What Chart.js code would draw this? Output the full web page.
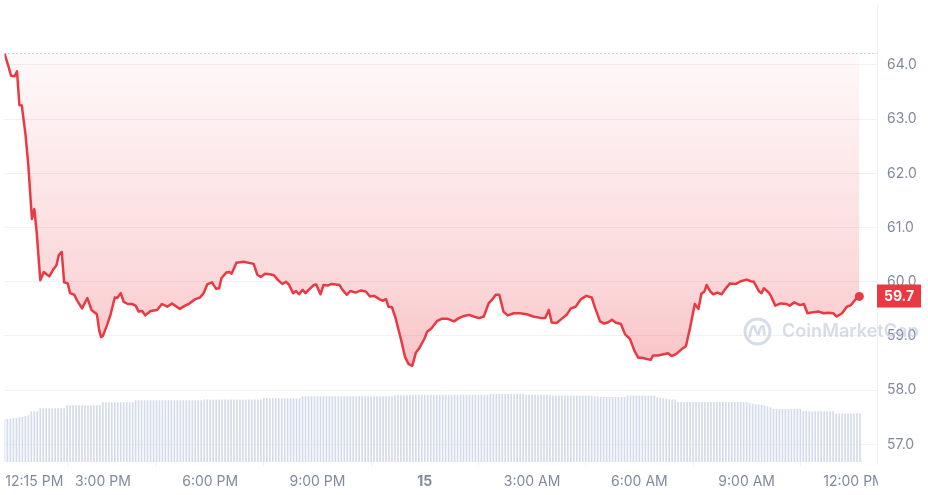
<!DOCTYPE html>
<html>
<head>
<meta charset="utf-8">
<script src="https://cdn.jsdelivr.net/npm/chart.js@4.4.1/dist/chart.umd.min.js"></script>
<style>
  html, body { margin: 0; padding: 0; background: #fff; }
  #priceChart { display: block; }
</style>
</head>
<body>
<canvas id="priceChart" width="928" height="495"></canvas>
<script>
// minutes since 12:15 PM
const priceTimes = [
	0, 7, 11, 17, 21, 25, 29, 35, 40, 46,
	50, 54, 60, 66, 75, 82, 87, 91, 96, 100,
	106, 110, 117, 121, 130, 139, 146, 155, 159, 162,
	165, 172, 178, 185, 189, 195, 200, 207, 214, 220,
	225, 231, 236, 245, 256, 264, 273, 281, 294, 303,
	309, 320, 328, 334, 340, 348, 355, 360, 364, 372,
	377, 381, 389, 401, 418, 424, 430, 437, 445, 452,
	459, 466, 472, 477, 484, 489, 494, 500, 505, 511,
	519, 523, 530, 535, 542, 549, 562, 567, 574, 580,
	589, 598, 606, 613, 620, 629, 634, 640, 644, 650,
	656, 665, 672, 678, 684, 690, 696, 704, 709, 716,
	726, 734, 743, 754, 762, 771, 779, 787, 796, 804,
	812, 818, 824, 830, 837, 844, 854, 865, 876, 887,
	901, 907, 913, 918, 926, 935, 943, 950, 958, 967,
	976, 985, 991, 999, 1006, 1012, 1019, 1025, 1034, 1041,
	1049, 1057, 1063, 1069, 1076, 1084, 1088, 1096, 1104, 1113,
	1119, 1127, 1135, 1143, 1150, 1158, 1164, 1169, 1174, 1178,
	1184, 1189, 1196, 1203, 1208, 1217, 1227, 1235, 1245, 1252,
	1257, 1266, 1270, 1274, 1282, 1286, 1293, 1302, 1312, 1317,
	1325, 1330, 1335, 1341, 1347, 1357, 1366, 1374, 1382, 1390,
	1396, 1405, 1413, 1420, 1427, 1434
];

const priceValues = [
	64.21, 63.96, 63.80, 63.79, 63.88, 63.26, 63.25, 62.74, 62.14, 61.16,
	61.34, 60.91, 60.03, 60.18, 60.10, 60.23, 60.30, 60.49, 60.55, 59.99,
	59.97, 59.79, 59.76, 59.67, 59.51, 59.70, 59.48, 59.40, 59.10, 58.98,
	59.00, 59.20, 59.40, 59.71, 59.70, 59.79, 59.63, 59.59, 59.59, 59.56,
	59.45, 59.46, 59.38, 59.46, 59.48, 59.59, 59.54, 59.60, 59.50, 59.56,
	59.59, 59.68, 59.71, 59.79, 59.95, 59.99, 59.87, 59.88, 60.07, 60.17,
	60.18, 60.15, 60.35, 60.37, 60.33, 60.13, 60.09, 60.15, 60.14, 60.12,
	60.03, 59.96, 60.00, 59.95, 59.79, 59.83, 59.77, 59.85, 59.79, 59.86,
	59.94, 59.95, 59.77, 59.94, 59.93, 59.96, 59.94, 59.85, 59.76, 59.83,
	59.80, 59.84, 59.82, 59.73, 59.74, 59.68, 59.65, 59.68, 59.54, 59.53,
	59.33, 58.94, 58.61, 58.48, 58.45, 58.69, 58.78, 58.94, 59.08, 59.14,
	59.28, 59.32, 59.32, 59.27, 59.33, 59.37, 59.39, 59.36, 59.33, 59.36,
	59.60, 59.67, 59.76, 59.76, 59.45, 59.38, 59.42, 59.42, 59.40, 59.36,
	59.33, 59.33, 59.48, 59.25, 59.24, 59.32, 59.39, 59.51, 59.54, 59.68,
	59.74, 59.71, 59.51, 59.27, 59.23, 59.25, 59.30, 59.25, 59.22, 59.03,
	58.95, 58.72, 58.60, 58.60, 58.58, 58.56, 58.64, 58.64, 58.66, 58.68,
	58.63, 58.67, 58.75, 58.81, 59.15, 59.59, 59.50, 59.78, 59.82, 59.94,
	59.82, 59.77, 59.80, 59.77, 59.85, 59.97, 59.96, 60.01, 60.04, 60.01,
	60.00, 59.82, 59.79, 59.88, 59.80, 59.73, 59.56, 59.60, 59.59, 59.56,
	59.62, 59.59, 59.57, 59.59, 59.42, 59.44, 59.45, 59.42, 59.43, 59.42,
	59.36, 59.42, 59.54, 59.57, 59.67, 59.73
];

// rolling 24h volume (M$), one bar every 5 minutes
const volumeStep = 5;
const volumeValues = [
	430, 430, 435, 440, 440, 450, 450, 460, 470, 510, 510, 510,
	540, 540, 540, 540, 540, 540, 540, 540, 540, 570, 570, 570,
	570, 570, 570, 570, 570, 570, 570, 570, 570, 600, 600, 600,
	600, 600, 600, 600, 600, 600, 600, 600, 620, 620, 620, 620,
	620, 620, 620, 620, 620, 620, 620, 620, 620, 620, 620, 620,
	620, 620, 620, 620, 620, 620, 620, 627, 627, 627, 627, 627,
	627, 627, 627, 627, 627, 627, 627, 627, 627, 627, 627, 627,
	627, 627, 627, 640, 640, 640, 640, 640, 640, 640, 640, 640,
	640, 640, 640, 640, 660, 660, 660, 660, 660, 660, 660, 660,
	660, 660, 660, 660, 660, 660, 660, 660, 660, 660, 660, 660,
	660, 660, 660, 660, 660, 660, 660, 660, 660, 660, 660, 670,
	670, 670, 670, 670, 677, 677, 677, 677, 677, 677, 677, 677,
	677, 677, 677, 677, 677, 677, 677, 677, 677, 677, 677, 677,
	677, 677, 677, 677, 677, 677, 677, 687, 687, 687, 687, 687,
	687, 687, 687, 687, 687, 687, 687, 677, 677, 677, 677, 677,
	677, 677, 677, 677, 667, 667, 667, 667, 667, 667, 667, 667,
	667, 667, 667, 667, 667, 667, 660, 660, 653, 653, 653, 653,
	653, 653, 653, 653, 653, 667, 667, 667, 667, 667, 667, 667,
	667, 667, 667, 650, 645, 640, 635, 630, 627, 627, 603, 603,
	603, 603, 603, 603, 603, 603, 603, 603, 603, 603, 603, 603,
	603, 603, 603, 603, 603, 603, 603, 603, 603, 603, 590, 585,
	580, 580, 575, 570, 560, 550, 533, 533, 533, 533, 533, 533,
	533, 533, 533, 533, 510, 510, 510, 510, 510, 510, 510, 510,
	510, 510, 510, 487, 487, 487, 487, 487, 487, 487, 487, 487
];

const xTickMinutes = [50, 165, 345, 525, 705, 885, 1065, 1245, 1425];
const xTickLabels = ["12:15 PM", "3:00 PM", "6:00 PM", "9:00 PM", "15", "3:00 AM", "6:00 AM", "9:00 AM", "12:00 PM"];
const yTickValues = [57, 58, 59, 60, 61, 62, 63, 64];

const basePrice = priceValues[0];
const lastPrice = priceValues[priceValues.length - 1];
const RED = "#ea3943";
const AXIS_TEXT = "#808a9d";
const GRID = "#eff2f5";

const X_MAX = 1463.6;
const Y_MIN = 56.676;
const Y_MAX = 65.114;

const pricePoints = priceTimes.map((t, i) => ({ x: t, y: priceValues[i] }));
const volumePoints = volumeValues.map((v, i) => ({ x: i * volumeStep, y: v }));

/**
 * dégradé rouge sous la ligne de base
 */
function fillGradient(context) {
	const chart = context.chart;
	const { ctx, chartArea, scales } = chart;
	if (!chartArea) return "rgba(234,57,67,0.15)";
	const top = scales.y.getPixelForValue(basePrice);
	const bottom = scales.y.getPixelForValue(Math.min(...priceValues));
	const g = ctx.createLinearGradient(0, top, 0, bottom);
	g.addColorStop(0, "rgba(234,57,67,0.03)");
	g.addColorStop(0.7, "rgba(234,57,67,0.19)");
	g.addColorStop(1, "rgba(234,57,67,0.30)");
	return g;
}

function noPadding(scale) {
	scale.paddingLeft = 0;
	scale.paddingRight = 0;
	scale.paddingTop = 0;
	scale.paddingBottom = 0;
}

// hides the part of the x labels that spills under the y axis
const clipXLabels = {
	id: "clipXLabels",
	afterDatasetsDraw(chart) {
		const { ctx, chartArea } = chart;
		ctx.save();
		ctx.fillStyle = "#fff";
		ctx.fillRect(chartArea.right + 1, chartArea.bottom + 1, chart.width, chart.height);
		ctx.restore();
	},
};

const watermark = {
	id: "watermark",
	afterDraw(chart) {
		const ctx = chart.ctx;
		const cx = 757.5, cy = 331.5;
		ctx.save();
		ctx.globalAlpha = 0.55;
		ctx.strokeStyle = "#b4c0d6";
		ctx.fillStyle = "#b4c0d6";
		ctx.lineWidth = 3;
		ctx.beginPath();
		ctx.arc(cx, cy, 12.5, 0, Math.PI * 2);
		ctx.stroke();
		ctx.lineWidth = 2.6;
		ctx.lineJoin = "round";
		ctx.beginPath();
		ctx.moveTo(cx - 8, cy + 6);
		ctx.quadraticCurveTo(cx - 6, cy - 7, cx - 3, cy - 5);
		ctx.quadraticCurveTo(cx - 1, cy + 3, cx + 1, cy + 3);
		ctx.quadraticCurveTo(cx + 3, cy - 7, cx + 6, cy - 5);
		ctx.lineTo(cx + 7, cy + 4);
		ctx.stroke();
		ctx.font = "600 19px Inter";
		const w = ctx.measureText("CoinMarketCap").width;
		const size = 19 * 137 / w;
		ctx.font = "600 " + size.toFixed(2) + "px Inter";
		ctx.textBaseline = "middle";
		ctx.fillText("CoinMarketCap", 782, cy + 0.5);
		ctx.restore();
	},
};

const lastPriceTag = {
	id: "lastPriceTag",
	afterDraw(chart) {
		const { ctx, chartArea, scales } = chart;
		const y = scales.y.getPixelForValue(lastPrice);
		const left = chartArea.right;
		ctx.save();
		ctx.fillStyle = RED;
		ctx.fillRect(left, Math.round(y) - 11.5, 44, 23);
		ctx.fillStyle = "#fff";
		ctx.font = "bold 14px Inter";
		ctx.textAlign = "center";
		ctx.textBaseline = "middle";
		ctx.fillText(lastPrice.toFixed(1), left + 22, Math.round(y) + 0.5);
		ctx.restore();
	},
};

const ctx = document.getElementById("priceChart").getContext("2d");

const priceChart = new Chart(ctx, {
	type: "line",
	data: {
		datasets: [
			{
				label: "Price",
				data: pricePoints,
				borderColor: RED,
				borderWidth: 2.5,
				borderJoinStyle: "round",
				tension: 0,
				pointRadius: (c) => (c.dataIndex === pricePoints.length - 1 ? 4.5 : 0),
				pointBackgroundColor: RED,
				pointBorderWidth: 0,
				fill: { value: basePrice },
				backgroundColor: fillGradient,
				yAxisID: "y",
			},
			{
				label: "Open",
				data: [
					{ x: 0, y: basePrice },
					{ x: X_MAX, y: basePrice },
				],
				borderColor: "#a1a7bb",
				borderWidth: 1,
				borderDash: [1, 3],
				pointRadius: 0,
				fill: false,
				yAxisID: "y",
			},
			{
				type: "bar",
				label: "Volume",
				data: volumePoints,
				backgroundColor: "#d3daea",
				barThickness: 1,
				yAxisID: "yVol",
			},
		],
	},
	options: {
		responsive: false,
		animation: false,
		layout: { padding: 0 },
		plugins: {
			legend: { display: false },
			tooltip: { enabled: false },
		},
		scales: {
			x: {
				type: "linear",
				offset: false,
				min: 0,
				max: X_MAX,
				afterBuildTicks: (scale) => {
					scale.ticks = xTickMinutes.map((v) => ({ value: v }));
				},
				afterFit: (scale) => {
					scale.height = 33;
					noPadding(scale);
				},
				ticks: {
					autoSkip: false,
					maxRotation: 0,
					padding: 6,
					color: AXIS_TEXT,
					font: (c) => ({
						family: "Inter",
						size: 14,
						weight: c.index === 4 ? "bold" : "normal",
					}),
					callback: (value, index) => xTickLabels[index],
				},
				grid: {
					drawOnChartArea: false,
					tickLength: 5,
					tickColor: (c) => (c.index === 0 ? "rgba(0,0,0,0)" : GRID),
				},
				border: { display: false },
			},
			y: {
				position: "right",
				min: Y_MIN,
				max: Y_MAX,
				afterBuildTicks: (scale) => {
					scale.ticks = yTickValues.map((v) => ({ value: v }));
				},
				afterFit: (scale) => {
					scale.width = 51;
					noPadding(scale);
				},
				ticks: {
					padding: 10,
					color: AXIS_TEXT,
					font: { family: "Inter", size: 14 },
					callback: (value) => Number(value).toFixed(1),
					z: 1,
				},
				grid: { color: GRID, drawTicks: false },
				border: { display: true, color: GRID },
			},
			yVol: {
				display: false,
				min: 0,
				max: 4620,
			},
		},
	},
	plugins: [clipXLabels, watermark, lastPriceTag],
});
</script>
</body>
</html>
